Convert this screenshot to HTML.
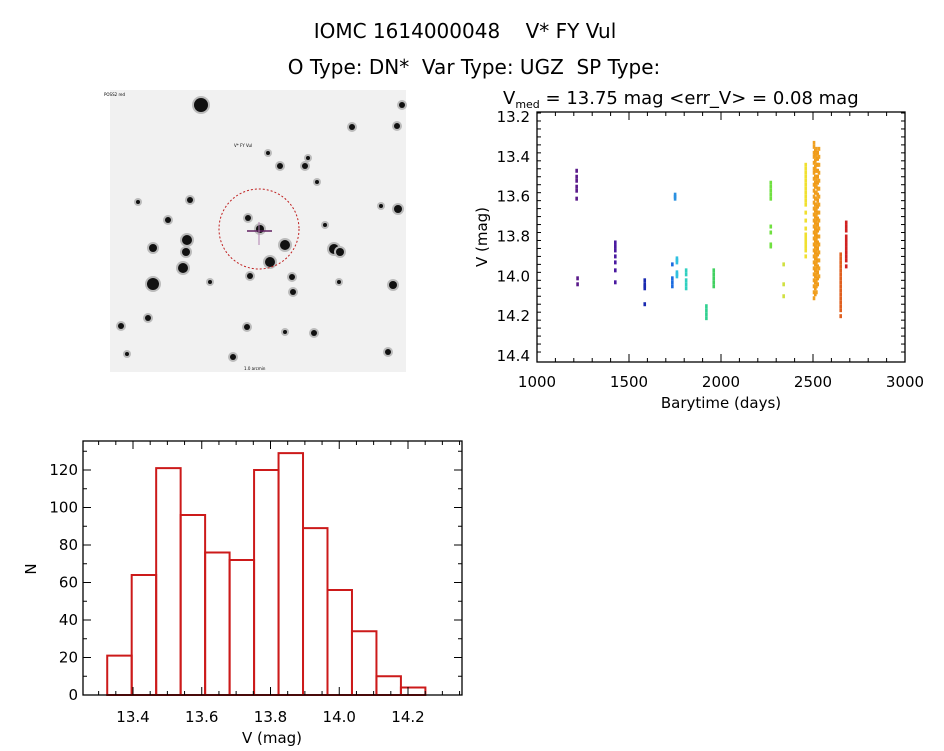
<!DOCTYPE html>
<html><head><meta charset="utf-8"><style>
body{margin:0;background:#fff;width:944px;height:747px;overflow:hidden;font-family:"DejaVu Sans","Liberation Sans",sans-serif}
svg text{font-family:"DejaVu Sans","Liberation Sans",sans-serif;fill:#000;white-space:pre}
</style></head><body>
<svg id="s" width="944" height="747" xml:space="preserve">
<text x="465" y="38" font-size="20" text-anchor="middle">IOMC 1614000048    V* FY Vul</text>
<text x="474" y="74" font-size="20" text-anchor="middle">O Type: DN*  Var Type: UGZ  SP Type:</text>
<g id="img">
<rect x="110" y="90" width="296" height="282" fill="#f1f1f1"/>
</g>
<g id="lc"></g>
<g id="hist"></g>
</svg>
<script>
const NS="http://www.w3.org/2000/svg";
function mk(p,t,a){const e=document.createElementNS(NS,t);for(const k in a)e.setAttribute(k,a[k]);p.appendChild(e);return e;}
const img=document.getElementById('img');
const stars=[[201,105,7],[153,284,6],[187,240,5],[186,252,4],[183,268,5],[153,248,4],[285,245,5],[270,262,5],[334,249,5],[340,252,4],[393,285,4],[398,209,4],[352,127,3],[397,126,3],[402,105,3],[248,218,3],[260,229,4],[250,276,3],[292,277,3],[293,292,3],[247,327,3],[148,318,3],[121,326,3],[233,357,3],[388,352,3],[314,333,3],[280,166,3],[305,166,3],[190,200,3],[168,220,3],[308,158,2],[381,206,2],[127,354,2],[268,153,2],[210,282,2],[138,202,2],[325,225,2],[317,182,2],[285,332,2],[339,282,2]];
stars.forEach(s=>{mk(img,'circle',{cx:s[0],cy:s[1],r:s[2]+2,fill:'#bbb'});mk(img,'circle',{cx:s[0],cy:s[1],r:s[2],fill:'#111'});});
mk(img,'circle',{cx:259,cy:229,r:40,fill:'none',stroke:'#c02020','stroke-width':1,'stroke-dasharray':'2 2'});
mk(img,'line',{x1:247,y1:231,x2:272,y2:231,stroke:'#602060','stroke-width':1.5});
mk(img,'line',{x1:259,y1:222,x2:259,y2:245,stroke:'#b080b0','stroke-width':1});
mk(img,'text',{x:104,y:96,'font-size':4,fill:'#2030a0'}).textContent='POSS2 red';
mk(img,'text',{x:234,y:147,'font-size':4,fill:'#c02020'}).textContent='V* FY Vul';
mk(img,'text',{x:244,y:370,'font-size':4,fill:'#2030a0'}).textContent='1.0 arcmin';

const lcTimes=[1215,1220,1425,1585,1735,1750,1760,1810,1920,1960,2270,2340,2460,2505,2512,2518,2525,2532,2650,2680];
const lcColors=['#5a1a8a','#5a1a8a','#4a1aa0','#1a2ab0','#1a6ae0','#2a90e0','#30c0e0','#30d0c0','#30d090','#40d060','#70e040','#d0e040','#f0e030','#f0a020','#f09a18','#f0a020','#f09a18','#f0a020','#e06020','#d02020'];
const lcMags=[
[13.47,13.50,13.52,13.55,13.57,13.61],
[14.01,14.04],
[13.83,13.85,13.87,13.90,13.93,13.97,14.03],
[14.02,14.04,14.05,14.06,14.14],
[13.94,14.01,14.03,14.05],
[13.59,13.60,13.61],
[13.91,13.92,13.93,13.98,13.99,14.00],
[13.97,13.99,14.02,14.04,14.06],
[14.15,14.17,14.19,14.21],
[13.97,13.99,14.01,14.03,14.05],
[13.53,13.55,13.57,13.59,13.61,13.75,13.78,13.84,13.85],
[13.94,14.04,14.10],
[13.44,13.46,13.48,13.50,13.52,13.54,13.56,13.58,13.60,13.62,13.64,13.68,13.72,13.76,13.79,13.81,13.83,13.85,13.87,13.90],
[13.33,13.35,13.38,13.40,13.43,13.46,13.48,13.51,13.54,13.57,13.60,13.63,13.66,13.69,13.72,13.75,13.78,13.81,13.84,13.87,13.90,13.93,13.96,13.99,14.02,14.05,14.08,14.11],
[13.37,13.39,13.42,13.45,13.47,13.50,13.53,13.55,13.58,13.61,13.64,13.67,13.70,13.73,13.76,13.79,13.82,13.85,13.88,13.91,13.94,13.97,14.00,14.03,14.06,14.09],
[13.36,13.39,13.41,13.44,13.47,13.50,13.52,13.55,13.58,13.61,13.64,13.66,13.69,13.72,13.75,13.78,13.81,13.84,13.87,13.90,13.93,13.96,13.99,14.02,14.05,14.08],
[13.38,13.41,13.44,13.47,13.50,13.53,13.56,13.59,13.62,13.65,13.68,13.71,13.74,13.77,13.80,13.83,13.86,13.89,13.92,13.95,13.98,14.01,14.04],
[13.36,13.40,13.44,13.48,13.52,13.56,13.60,13.64,13.68,13.72,13.76,13.80,13.84,13.88,13.92,13.96,14.00],
[13.89,13.91,13.93,13.95,13.97,13.99,14.01,14.03,14.05,14.07,14.09,14.11,14.13,14.15,14.17,14.20],
[13.73,13.75,13.77,13.80,13.82,13.84,13.86,13.88,13.90,13.92,13.95]];
const lcXTicks=[1000,1500,2000,2500,3000];
const lcYTicks=[13.2,13.4,13.6,13.8,14.0,14.2,14.4];
const L={x0:537,x1:905,y0:112,y1:362};
const lx=t=>L.x0+(t-1000)/2000*(L.x1-L.x0);
const ly=m=>117+(m-13.2)/1.2*239;
const lc=document.getElementById('lc');
mk(lc,'rect',{x:L.x0,y:L.y0,width:L.x1-L.x0,height:L.y1-L.y0,fill:'none',stroke:'#000','stroke-width':1.3});
for(let t=1000;t<=3000;t+=100){const X=lx(t),h=(t%500===0)?8:4;mk(lc,'line',{x1:X,y1:L.y1,x2:X,y2:L.y1-h,stroke:'#000'});mk(lc,'line',{x1:X,y1:L.y0,x2:X,y2:L.y0+h,stroke:'#000'});}
for(let i=0;i<=30;i++){const mm=Math.round((13.18+i*0.04)*100)/100;if(ly(mm)<L.y0||ly(mm)>L.y1)continue;const maj=Math.abs(mm*10-Math.round(mm*10))<1e-6&&Math.round(mm*10)%2===0;const h=maj?8:4;const Y=ly(mm);mk(lc,'line',{x1:L.x0,y1:Y,x2:L.x0+h,y2:Y,stroke:'#000'});mk(lc,'line',{x1:L.x1,y1:Y,x2:L.x1-h,y2:Y,stroke:'#000'});}
lcXTicks.forEach(t=>{const e=mk(lc,'text',{x:lx(t),y:387,'font-size':15,'text-anchor':'middle'});e.textContent=t;});
lcYTicks.forEach(m=>{const e=mk(lc,'text',{x:530,y:ly(m)+5,'font-size':15,'text-anchor':'end'});e.textContent=m.toFixed(1);});
lcTimes.forEach((t,i)=>{lcMags[i].forEach(m=>{const r=mk(lc,'rect',{x:lx(t)-1.2,y:ly(m)-2,width:2.6,height:4,fill:lcColors[i]});});});
const xt=mk(lc,'text',{x:721,y:408,'font-size':15,'text-anchor':'middle'});xt.textContent='Barytime (days)';
const yt=mk(lc,'text',{x:0,y:0,'font-size':15,'text-anchor':'middle',transform:'translate(487,237) rotate(-90)'});yt.textContent='V (mag)';
const tt=mk(lc,'text',{x:503,y:104,'font-size':18});tt.innerHTML='V<tspan font-size="11" dy="4">med</tspan><tspan dy="-4"> = 13.75 mag &lt;err_V&gt; = 0.08 mag</tspan>';

const binStart=13.325, binWidth=0.0712;
const counts=[21,64,121,96,76,72,120,129,89,56,34,10,4];
const hXTicks=[13.4,13.6,13.8,14.0,14.2];
const hYTicks=[0,20,40,60,80,100,120];
const H={x0:83,x1:462,y0:441,y1:695};
const hx=v=>133+(v-13.4)/0.8*275;
const hy=n=>695-n*1.875;
const hg=document.getElementById('hist');
counts.forEach((c,i)=>{const a=hx(binStart+i*binWidth),b=hx(binStart+(i+1)*binWidth);const r=mk(hg,'rect',{x:a,y:hy(c),width:b-a,height:hy(0)-hy(c),fill:'none',stroke:'#cc1a1a','stroke-width':2});});
mk(hg,'rect',{x:H.x0,y:H.y0,width:H.x1-H.x0,height:H.y1-H.y0,fill:'none',stroke:'#000','stroke-width':1.3});
for(let v=13.3;v<=14.36;v+=0.05){const X=hx(v);if(X<H.x0||X>H.x1)continue;const maj=Math.abs(v*10-Math.round(v*10))<1e-6&&Math.round(v*10)%2===0;const h=maj?8:4;mk(hg,'line',{x1:X,y1:H.y1,x2:X,y2:H.y1-h,stroke:'#000'});mk(hg,'line',{x1:X,y1:H.y0,x2:X,y2:H.y0+h,stroke:'#000'});}
for(let n=0;n<=130;n+=10){const Y=hy(n);const h=n%20===0?8:4;mk(hg,'line',{x1:H.x0,y1:Y,x2:H.x0+h,y2:Y,stroke:'#000'});mk(hg,'line',{x1:H.x1,y1:Y,x2:H.x1-h,y2:Y,stroke:'#000'});}
hXTicks.forEach(v=>{const e=mk(hg,'text',{x:hx(v),y:722,'font-size':15,'text-anchor':'middle'});e.textContent=v.toFixed(1);});
hYTicks.forEach(n=>{const e=mk(hg,'text',{x:78,y:hy(n)+5,'font-size':15,'text-anchor':'end'});e.textContent=n;});
const hxt=mk(hg,'text',{x:272,y:743,'font-size':15,'text-anchor':'middle'});hxt.textContent='V (mag)';
const hyt=mk(hg,'text',{x:0,y:0,'font-size':15,'text-anchor':'middle',transform:'translate(36,569) rotate(-90)'});hyt.textContent='N';
</script>
</body></html>
